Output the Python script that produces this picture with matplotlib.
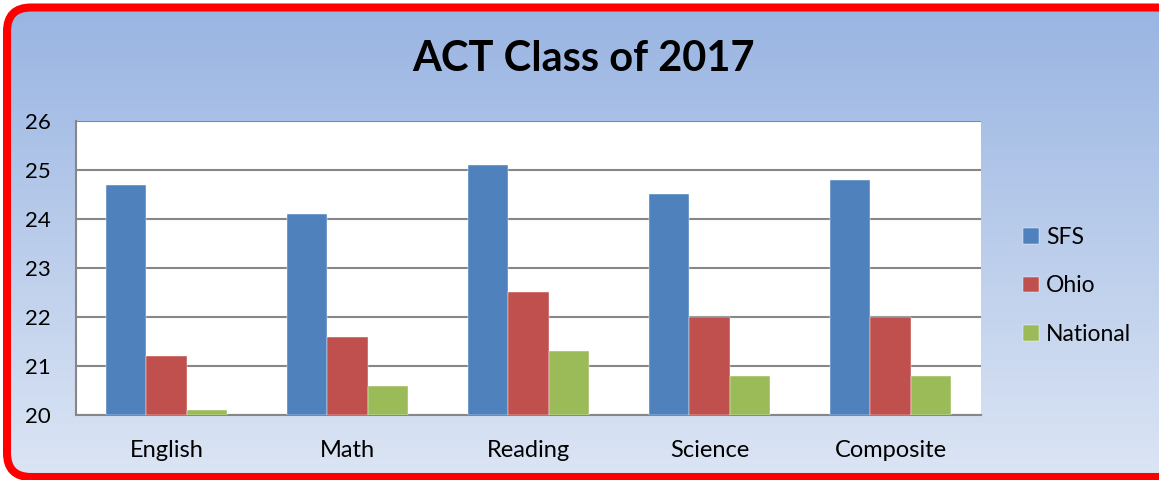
import matplotlib
matplotlib.use("Agg")
import matplotlib.pyplot as plt
import numpy as np
from matplotlib.patches import FancyBboxPatch

categories = ["English", "Math", "Reading", "Science", "Composite"]
series_names = ["SFS", "Ohio", "National"]
sfs = [24.7, 24.1, 25.1, 24.5, 24.8]
ohio = [21.2, 21.6, 22.5, 22.0, 22.0]
national = [20.1, 20.6, 21.3, 20.8, 20.8]
colors = ["#4f81bd", "#c0504d", "#9bbb59"]
yticks = [20, 21, 22, 23, 24, 25, 26]

plt.rcParams['font.family'] = ['Lato', 'DejaVu Sans']

W, H = 1159, 480
fig = plt.figure(figsize=(W / 100, H / 100), dpi=100)
fig.patch.set_facecolor("white")

# background with gradient and red rounded border
bg = fig.add_axes([0, 0, 1, 1], zorder=0)
bg.set_xlim(0, W)
bg.set_ylim(0, H)
bg.axis("off")
grad = np.linspace(0, 1, 256).reshape(-1, 1)
top = np.array([0x98, 0xb4, 0xe2]) / 255
bot = np.array([0xdc, 0xe5, 0xf4]) / 255
img = top[None, None, :] * (1 - grad[:, :, None]) + bot[None, None, :] * grad[:, :, None]
im = bg.imshow(img, extent=[0, W, 0, H], origin="upper", aspect="auto")
box = FancyBboxPatch((7, 3), W + 20, H - 10.5, boxstyle="round,pad=0,rounding_size=24",
                     facecolor="none", edgecolor="#ff0000", linewidth=5.8)
bg.add_patch(box)
im.set_clip_path(box)

ax = fig.add_axes([76 / W, 1 - 415 / H, (981 - 76) / W, (415 - 121) / H], zorder=1)
ax.set_facecolor("white")
x = np.arange(len(categories))
w = 0.221
for i, (vals, c, n) in enumerate(zip([sfs, ohio, national], colors, series_names)):
    ax.bar(x + (i - 1) * w, np.array(vals) - 20, bottom=20, width=w, color=c, label=n,
           zorder=3, edgecolor="white", linewidth=0.3)

ax.set_xlim(-0.5, len(categories) - 0.5)
ax.set_ylim(20, 26)
ax.set_yticks(yticks)
ax.set_xticks(x)
ax.set_xticklabels(categories, fontsize=17)
ax.set_yticklabels([str(t) for t in yticks], fontsize=16)
ax.tick_params(axis="both", length=0, colors="black")
ax.tick_params(axis="y", pad=18)
ax.tick_params(axis="x", pad=18)
ax.yaxis.grid(True, color="#878787", linewidth=1.5, zorder=0)
ax.set_axisbelow(True)
for s in ["top", "right"]:
    ax.spines[s].set_visible(False)
ax.spines["left"].set_color("#878787")
ax.spines["left"].set_linewidth(1.5)
ax.spines["bottom"].set_color("#878787")
ax.spines["bottom"].set_linewidth(1.5)

fig.text(583 / W, 1 - 59 / H, "ACT Class of 2017", ha="center", va="center",
         fontsize=30, fontweight="bold", color="black")

leg = ax.legend(loc="center left", bbox_to_anchor=(1023 / W, 1 - 286 / H),
                bbox_transform=fig.transFigure, frameon=False, fontsize=16.5,
                handlelength=0.68, handleheight=0.68, handletextpad=0.32,
                labelspacing=1.2, borderpad=0, borderaxespad=0)

fig.savefig("out.png", dpi=100, facecolor="white")
